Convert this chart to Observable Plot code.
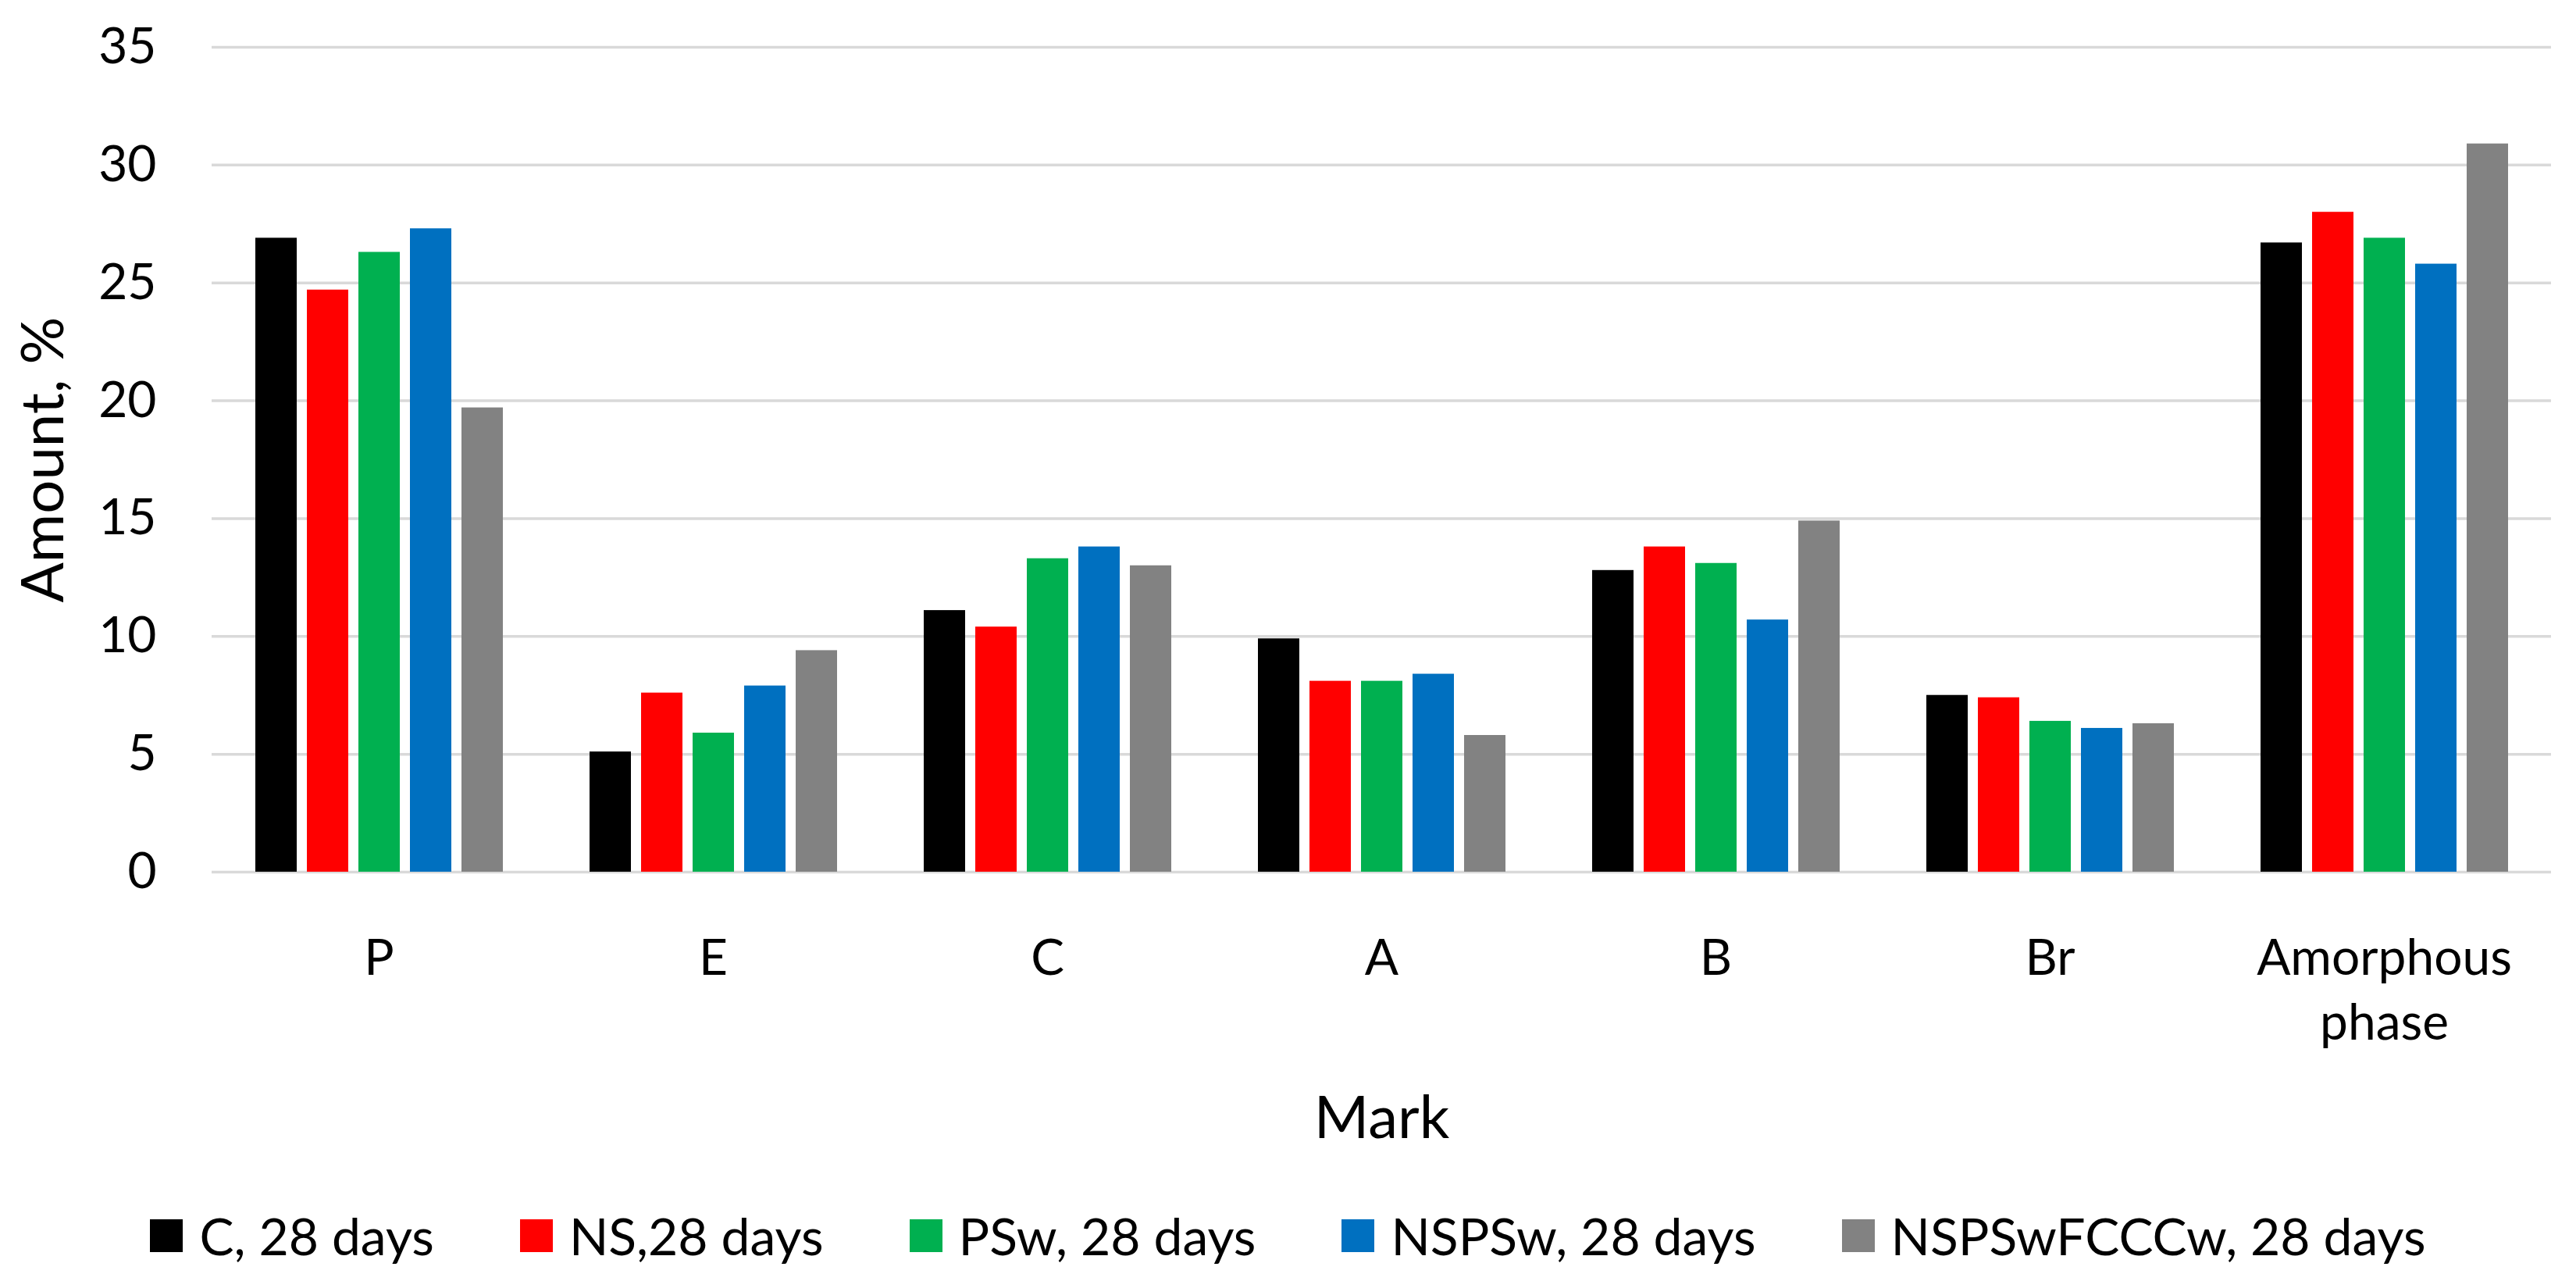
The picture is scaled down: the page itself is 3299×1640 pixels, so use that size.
<!DOCTYPE html>
<html>
<head>
<meta charset="utf-8">
<script src="https://cdn.jsdelivr.net/npm/d3@7"></script>
<script src="https://cdn.jsdelivr.net/npm/@observablehq/plot@0.6"></script>
<style>
  html, body { margin: 0; padding: 0; background: #fff; }
  body { width: 3299px; height: 1640px; overflow: hidden; font-family: Lato, "Open Sans", sans-serif; }
  #legend { display: flex; justify-content: center; gap: 110px; padding-top: 52px; font-size: 66px; line-height: 60px; color: #000; }
  .item { display: flex; align-items: center; gap: 21px; }
  .sw { width: 42px; height: 42px; display: inline-block; }
</style>
</head>
<body>
<div id="chart"></div>
<div id="legend"></div>
<script>
const categories = ["P", "E", "C", "A", "B", "Br", "Amorphous phase"];
const seriesNames = ["C, 28 days", "NS,28 days", "PSw, 28 days", "NSPSw, 28 days", "NSPSwFCCCw, 28 days"];
const seriesColors = ["#000000", "#ff0000", "#00b050", "#0070c0", "#828282"];
const valuesC = [26.9, 5.1, 11.1, 9.9, 12.8, 7.5, 26.7];
const valuesNS = [24.7, 7.6, 10.4, 8.1, 13.8, 7.4, 28.0];
const valuesPSw = [26.3, 5.9, 13.3, 8.1, 13.1, 6.4, 26.9];
const valuesNSPSw = [27.3, 7.9, 13.8, 8.4, 10.7, 6.1, 25.8];
const valuesNSPSwFCCCw = [19.7, 9.4, 13.0, 5.8, 14.9, 6.3, 30.9];
const yTicks = [0, 5, 10, 15, 20, 25, 30, 35];

const allValues = [valuesC, valuesNS, valuesPSw, valuesNSPSw, valuesNSPSwFCCCw];
const data = [];
seriesNames.forEach((s, i) => {
  categories.forEach((c, j) => data.push({category: c, series: s, value: allValues[i][j]}));
});

const chart = Plot.plot({
  width: 3299,
  height: 1500,
  marginTop: 60,
  marginBottom: 384,
  marginLeft: 271,
  marginRight: 32,
  style: {fontFamily: "Lato, 'Open Sans', sans-serif", fontSize: "64px", color: "#000", background: "#fff"},
  fx: {domain: categories, padding: 0, label: null},
  x: {domain: seriesNames, paddingInner: 0.2, paddingOuter: 0.8424, axis: null},
  y: {domain: [0, 35], ticks: yTicks, label: null},
  color: {domain: seriesNames, range: seriesColors},
  marks: [
    Plot.gridY(yTicks, {stroke: "#d9d9d9", strokeOpacity: 1, strokeWidth: 3.5}),
    Plot.barY(data, {fx: "category", x: "series", y: "value", fill: "series"}),
    Plot.axisY({ticks: yTicks, tickSize: 0, tickPadding: 71, fontSize: 64, label: "Amount, %", labelAnchor: "center", labelArrow: false, labelOffset: 244}),
    Plot.axisFx({anchor: "bottom", tickSize: 0, tickPadding: 72, fontSize: 64, lineHeight: 1.3, tickFormat: d => d.replace(" ", "\n"), label: "Mark", labelAnchor: "center", labelArrow: false, labelOffset: 340})
  ]
});
chart.querySelectorAll("[aria-label='y-axis label'], [aria-label='fx-axis label']").forEach(g => g.setAttribute("font-size", "76"));
document.getElementById("chart").appendChild(chart);

const legend = document.getElementById("legend");
seriesNames.forEach((s, i) => {
  const item = document.createElement("div");
  item.className = "item";
  const sw = document.createElement("span");
  sw.className = "sw";
  sw.style.background = seriesColors[i];
  const t = document.createElement("span");
  t.textContent = s;
  item.appendChild(sw);
  item.appendChild(t);
  legend.appendChild(item);
});
</script>
</body>
</html>
